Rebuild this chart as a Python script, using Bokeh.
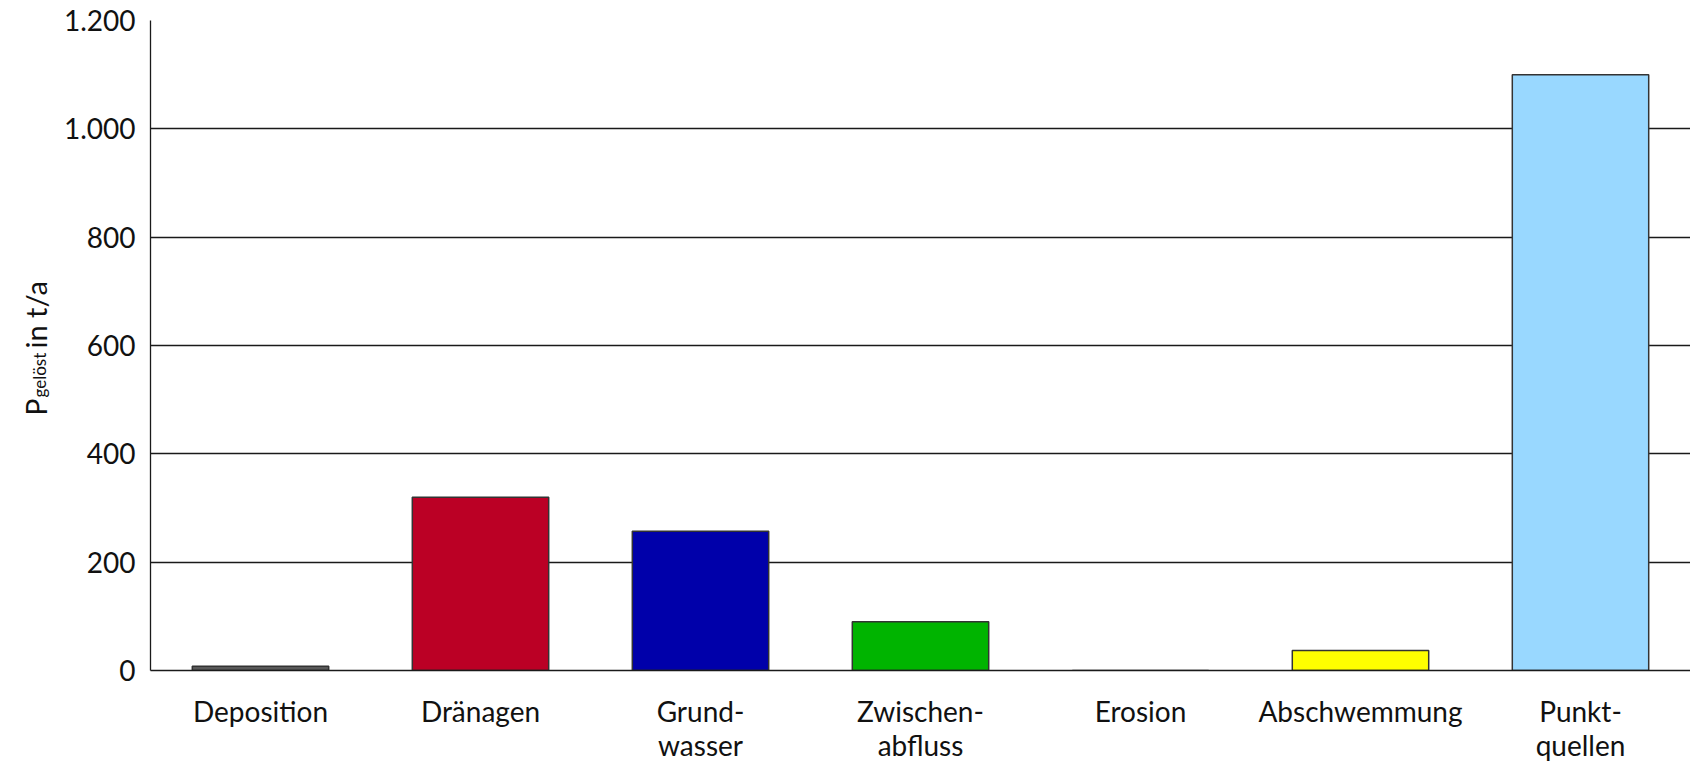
from math import pi
from bokeh.plotting import figure
from bokeh.layouts import row
from bokeh.models import FactorRange, Range1d, Label, ColumnDataSource
from bokeh.embed import file_html
from bokeh.resources import INLINE

categories = ["Deposition", "Dränagen", "Grund-\nwasser", "Zwischen-\nabfluss",
              "Erosion", "Abschwemmung", "Punkt-\nquellen"]
values = [8, 320, 257, 90, 0, 37, 1100]
colors = ["#595959", "#BB0025", "#0000AA", "#00B400", "#FFFFFF", "#FFFF00", "#99D8FF"]
y_ticks = [0, 200, 400, 600, 800, 1000, 1200]
y_tick_labels = ["0", "200", "400", "600", "800", "1.000", "1.200"]
y_title = ["P", "gelöst", "in t/a"]

FONT = "Lato"
W = 1690
H = 766
LEFT_W = 60

# narrow panel holding the y-axis title (with subscript); its frame is aligned
# with the main plot's frame by the row layout, so y offsets are from frame bottom
t = figure(width=LEFT_W, height=H, x_range=Range1d(0, 1), y_range=Range1d(0, 1),
           x_axis_type=None, y_axis_type=None, output_backend="svg", toolbar_location=None,
           min_border=0)
t.outline_line_color = None
t.xgrid.grid_line_color = None
t.ygrid.grid_line_color = None
base_x = 35
t.add_layout(Label(x=base_x, y=255, x_units="screen", y_units="screen", text=y_title[0],
                   angle=pi / 2, text_font=FONT, text_font_size="28px",
                   text_align="left", text_baseline="alphabetic", text_color="#111111"))
t.add_layout(Label(x=base_x + 4, y=273, x_units="screen", y_units="screen", text=y_title[1],
                   angle=pi / 2, text_font=FONT, text_font_size="17px",
                   text_align="left", text_baseline="alphabetic", text_color="#111111"))
t.add_layout(Label(x=base_x, y=322, x_units="screen", y_units="screen", text=y_title[2],
                   angle=pi / 2, text_font=FONT, text_font_size="29px",
                   text_align="left", text_baseline="alphabetic", text_color="#111111"))

p = figure(width=W - LEFT_W, height=H, x_range=FactorRange(*categories, range_padding=0),
           y_range=Range1d(0, 1200), output_backend="svg", toolbar_location=None,
           min_border_left=149 - LEFT_W, min_border_right=0, min_border_top=20,
           min_border_bottom=96)
p.outline_line_color = None

src = ColumnDataSource(dict(x=categories, top=values, color=colors))
p.vbar(x="x", top="top", width=0.62, source=src, fill_color="color",
       line_color="#333333", line_width=1.5)

p.xgrid.grid_line_color = None
p.ygrid.grid_line_color = "#1a1a1a"
p.ygrid.grid_line_width = 1.3
p.ygrid.ticker = y_ticks

p.yaxis.ticker = y_ticks
p.yaxis.major_label_overrides = dict(zip(y_ticks, y_tick_labels))
p.yaxis.major_tick_line_color = None
p.yaxis.major_tick_out = 0
p.yaxis.major_tick_in = 0
p.yaxis.minor_tick_line_color = None
p.yaxis.major_label_standoff = 15
p.yaxis.axis_line_color = "#1a1a1a"
p.yaxis.axis_line_width = 1.3
p.yaxis.major_label_text_font = FONT
p.yaxis.major_label_text_font_size = "28px"
p.yaxis.major_label_text_color = "#111111"

p.xaxis.major_tick_line_color = None
p.xaxis.major_tick_out = 0
p.xaxis.major_tick_in = 0
p.xaxis.minor_tick_line_color = None
p.xaxis.axis_line_color = "#1a1a1a"
p.xaxis.axis_line_width = 1.3
p.xaxis.major_label_standoff = 23
p.xaxis.major_label_text_font = FONT
p.xaxis.major_label_text_font_size = "28px"
p.xaxis.major_label_text_line_height = 1.0
p.xaxis.major_label_text_color = "#111111"

layout = row(t, p, spacing=0)
open("out.html", "w").write(file_html(layout, INLINE))
